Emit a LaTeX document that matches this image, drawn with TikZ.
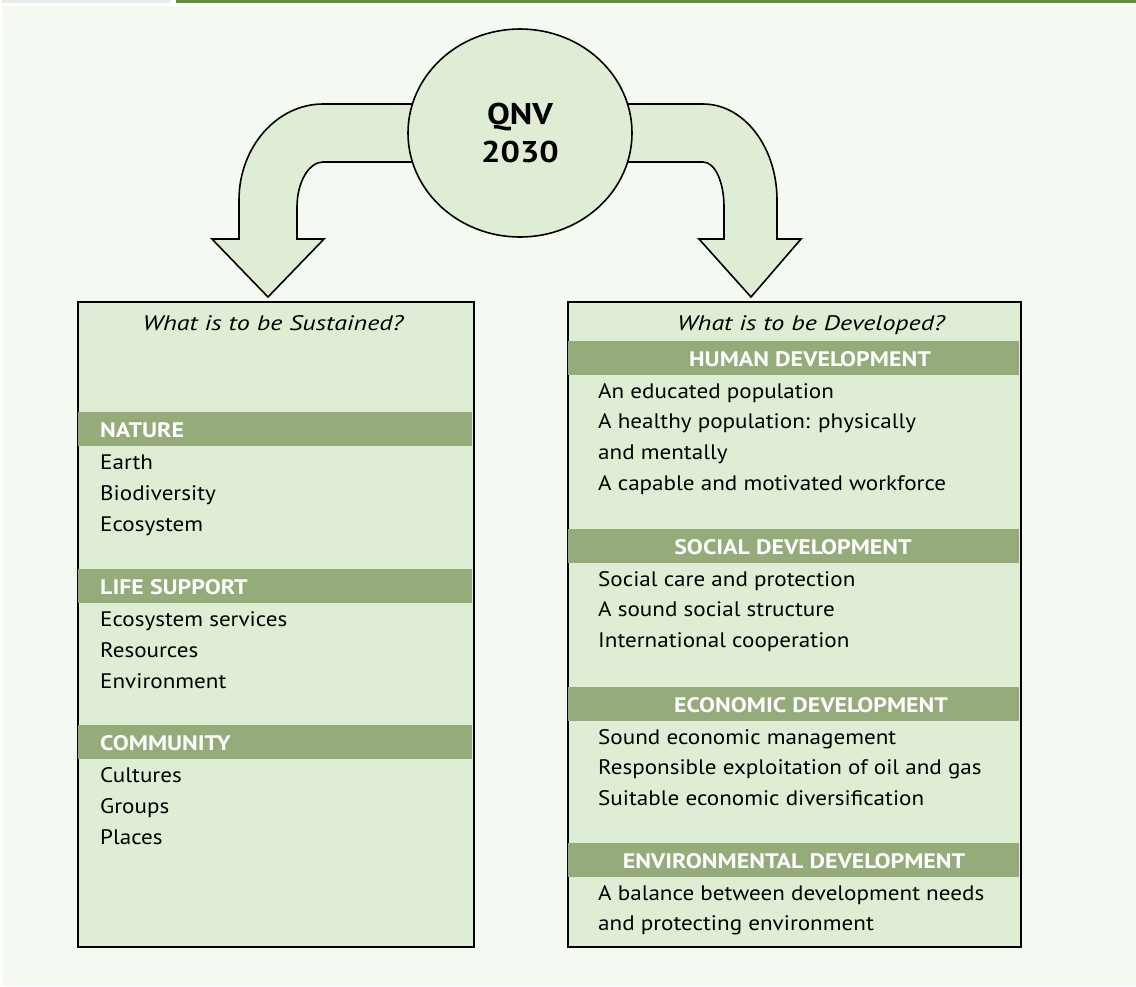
\documentclass[tikz,border=0pt]{standalone}
\usepackage{fontspec}
\setmainfont{PT Sans}[FakeStretch=1.1,
  BoldFeatures={FakeStretch=1.14},
  ItalicFeatures={FakeStretch=1.24}]
\usepackage{tikz}
\usetikzlibrary{calc,positioning}
\usetikzlibrary{shapes.geometric}

\definecolor{bgc}{RGB}{244,249,242}
\definecolor{boxc}{RGB}{224,237,213}
\definecolor{barc}{RGB}{149,171,121}
\definecolor{linec}{RGB}{104,140,62}

\begin{document}
\begin{tikzpicture}[x=1pt,y=-1pt,
  every node/.style={font=\fontsize{21}{25}\selectfont, inner sep=0pt},
  panel/.style={draw, line width=2pt, fill=boxc, anchor=north west},
  bar/.style={fill=barc, minimum height=34pt, anchor=north west},
  head/.style={text=white, font=\fontsize{21}{25}\selectfont\bfseries},
  item/.style={anchor=base west},
  ask/.style={anchor=base, font=\fontsize{21}{25}\selectfont\itshape},
  curvearrow/.style={draw, line width=1.6pt, fill=boxc, line join=miter}
  ]
\useasboundingbox (0,0) rectangle (1136,986);
\fill[bgc] (2,6) rectangle (1136,986);
\fill[black!8] (2,0) rectangle (171,2.5);
\fill[linec] (176,0) rectangle (1136,2.5);

\draw[curvearrow] (450,104) -- (323,104) .. controls (277,104) and (239,147) .. (239,200)
  -- (239,239) -- (212,239) -- (268,297) -- (324,239) -- (297,239)
  -- (297,207) .. controls (297,182) and (309,162) .. (323,162) -- (450,162) -- cycle;
\draw[curvearrow] (600,104) -- (703,104) .. controls (744,104) and (777,147) .. (777,200)
  -- (777,239) -- (801,239) -- (751,297) -- (699,239) -- (724,239)
  -- (724,207) .. controls (724,182) and (715,162) .. (703,162) -- (600,162) -- cycle;

\node[ellipse, draw, line width=1.6pt, fill=boxc, minimum width=224pt, minimum height=208pt,
  align=center, font=\fontsize{30}{38}\selectfont\bfseries] (qnv) at (520,133) {QNV\\2030};

\node[panel, minimum width=396pt, minimum height=645pt] (sust) at (77,301) {};
\node[panel, minimum width=453pt, minimum height=645pt] (dev) at (567,301) {};
\node[ask] (sustQ) at (273,330) {What is to be Sustained?};
\node[ask] (devQ) at (811,330) {What is to be Developed?};

\foreach \yt/\tg/\lbl/\its in {
  412/nat/NATURE/{Earth,Biodiversity,Ecosystem},
  569/life/LIFE SUPPORT/{Ecosystem services,Resources,Environment},
  725/comm/COMMUNITY/{Cultures,Groups,Places}} {
  \node[bar, minimum width=394pt] (\tg-bar) at (78,\yt) {};
  \node[head, anchor=base west] (\tg-head) at (100,\yt+25.5) {\lbl};
  \foreach \txt [count=\i from 0] in \its
    \node[item] (\tg-\i) at (100,\yt+57+31*\i) {\txt};
}

\foreach \yt/\tg/\lbl/\xh/\its in {
  341/hum/HUMAN DEVELOPMENT/810/{An educated population,A healthy population: physically,and mentally,A capable and motivated workforce},
  529/soc/SOCIAL DEVELOPMENT/793/{Social care and protection,A sound social structure,International cooperation},
  687/eco/ECONOMIC DEVELOPMENT/811/{Sound economic management,Responsible exploitation of oil and gas,Suitable economic diversification},
  843/env/ENVIRONMENTAL DEVELOPMENT/794/{A balance between development needs,and protecting environment}} {
  \node[bar, minimum width=451pt] (\tg-bar) at (568,\yt) {};
  \node[head, anchor=base] (\tg-head) at (\xh,\yt+25.5) {\lbl};
  \foreach \txt [count=\i from 0] in \its
    \node[item] (\tg-\i) at (598,\yt+57+30.8*\i) {\txt};
}
\end{tikzpicture}
\end{document}
